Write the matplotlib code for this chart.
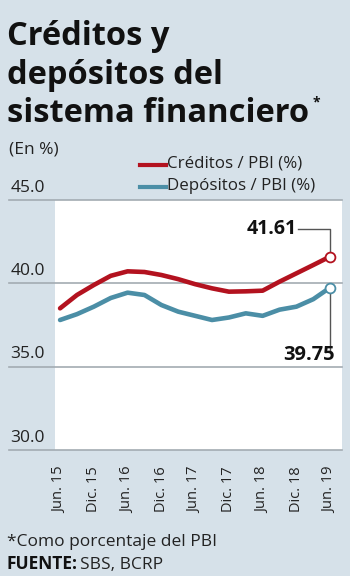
import matplotlib.pyplot as plt

# quarterly series, Jun.15 .. Jun.19
creditos = [38.5, 39.3, 39.9, 40.45, 40.72, 40.68, 40.5, 40.25, 39.95,
            39.7, 39.5, 39.52, 39.56, 40.1, 40.6, 41.1, 41.61]
depositos = [37.8, 38.15, 38.6, 39.12, 39.44, 39.3, 38.7, 38.3, 38.05,
             37.8, 37.95, 38.2, 38.05, 38.42, 38.6, 39.05, 39.75]
tick_labels = ["Jun. 15", "Dic. 15", "Jun. 16", "Dic. 16", "Jun. 17",
               "Dic. 17", "Jun. 18", "Dic. 18", "Jun. 19"]
y_ticks = [30.0, 35.0, 40.0, 45.0]

RED = "#b3121f"
BLUE = "#4b8ea6"
BG = "#d6e1e9"
GRID = "#a3abb2"
FONT = "Open Sans"

W, H = 350, 576
fig = plt.figure(figsize=(W / 100, H / 100), dpi=100, facecolor=BG)

def fx(px):
    return px / W

def fy(py):
    return 1 - py / H

ax = fig.add_axes([fx(55), fy(450), fx(342) - fx(55), fy(200) - fy(450)])
ax.set_facecolor("white")
for s in ax.spines.values():
    s.set_visible(False)

x = list(range(len(creditos)))
ax.set_xlim(-0.3, 16.7)
ax.set_ylim(30, 45)

# gridlines reach out under the value labels
for v in y_ticks:
    ax.axhline(v, xmin=-0.16, xmax=1, color=GRID, lw=1.2, clip_on=False, zorder=1)
    ax.text(-0.155, v + 0.25, f"{v:.1f}", transform=ax.get_yaxis_transform(),
            ha="left", va="bottom", fontsize=12.5, color="#222222", family=FONT)
ax.set_yticks([])

ax.plot(x, creditos, color=RED, lw=3.3, solid_capstyle="round", zorder=3)
ax.plot(x, depositos, color=BLUE, lw=3.3, solid_capstyle="round", zorder=3)
ax.scatter([x[-1]], [creditos[-1]], s=50, facecolor="white", edgecolor=RED,
           lw=1.3, zorder=4, clip_on=False)
ax.scatter([x[-1]], [depositos[-1]], s=50, facecolor="white", edgecolor=BLUE,
           lw=1.3, zorder=4, clip_on=False)

# callouts for the last values
ax.plot([14.1, x[-1], x[-1]], [43.25, 43.25, creditos[-1] + 0.3],
        color="#555555", lw=1, zorder=2)
ax.text(14.0, 43.25, f"{creditos[-1]:.2f}", ha="right", va="center",
        fontsize=14, fontweight="bold", color="#111111", family=FONT)
ax.plot([x[-1], x[-1]], [depositos[-1] - 0.3, 35.9], color="#555555", lw=1, zorder=2)
ax.text(x[-1] + 0.3, 35.1, f"{depositos[-1]:.2f}", ha="right", va="bottom",
        fontsize=14.5, fontweight="bold", color="#111111", family=FONT)

ax.set_xticks(x[::2])
ax.set_xticklabels(tick_labels, rotation=90, fontsize=10.5, family=FONT, color="#222222")
ax.tick_params(axis="x", length=0, pad=12)

# title block
title_lines = ["Créditos y", "depósitos del", "sistema financiero"]
for line, base in zip(title_lines, [45, 84, 122]):
    fig.text(fx(7), fy(base), line, ha="left", va="baseline", fontsize=23.5,
             fontweight="bold", color="#111111", family=FONT)
fig.text(fx(313), fy(106), "*", ha="left", va="baseline", fontsize=10,
         fontweight="bold", color="#111111", family=FONT)
fig.text(fx(9), fy(153), "(En %)", ha="left", va="baseline", fontsize=12.5,
         color="#222222", family=FONT)

# legend
for label, color, py in [("Créditos / PBI (%)", RED, 164), ("Depósitos / PBI (%)", BLUE, 186)]:
    fig.add_artist(plt.Line2D([fx(140), fx(166)], [fy(py + 1), fy(py + 1)], color=color, lw=3))
    fig.text(fx(167), fy(py), label, ha="left", va="center", fontsize=12.2,
             color="#222222", family=FONT)

fig.text(fx(7), fy(546), "*Como porcentaje del PBI", ha="left", va="baseline",
         fontsize=12.5, color="#222222", family=FONT)
fig.text(fx(7), fy(569), "FUENTE:", ha="left", va="baseline", fontsize=12.5,
         fontweight="bold", color="#111111", family=FONT)
fig.text(fx(80), fy(569), "SBS, BCRP", ha="left", va="baseline", fontsize=12.5,
         color="#222222", family=FONT)

fig.savefig("out.png", dpi=100, facecolor=BG)
